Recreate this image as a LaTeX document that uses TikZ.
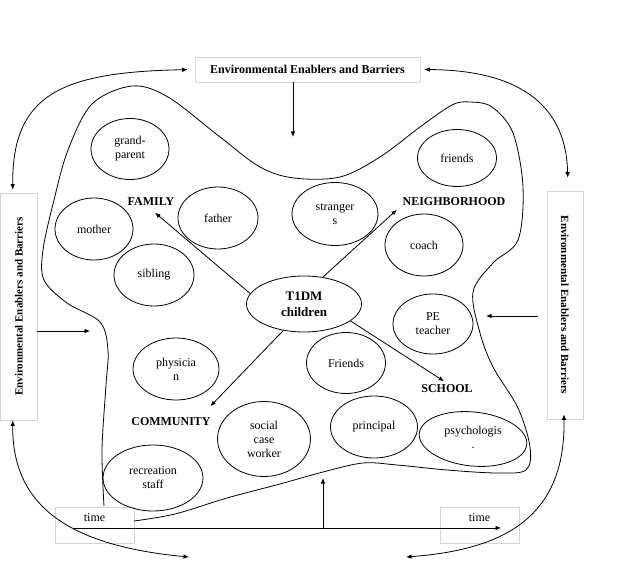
\documentclass[tikz,border=0pt]{standalone}
\usepackage{fontspec}
\setmainfont{Liberation Serif}
\usepackage{graphicx}
\usepackage{tikz}
\usetikzlibrary{positioning, arrows.meta, shapes.geometric, calc}
\definecolor{boxgray}{HTML}{D4D4D4}

\begin{document}
\begin{tikzpicture}[
    x=1pt, y=-1pt, line width=0.8pt,
    arr/.style={-{Latex[length=5.5pt,width=4.5pt]}},
    dblarr/.style={{Latex[length=5.5pt,width=4.5pt]}-{Latex[length=5.5pt,width=4.5pt]}},
    envbox/.style={draw=boxgray, line width=0.6pt, rectangle, inner sep=0pt, font=\fontsize{11}{13}\selectfont\bfseries, align=center},
    timebox/.style={draw=boxgray, line width=0.6pt, rectangle, minimum width=79pt, minimum height=36pt, inner sep=0pt},
    bubble/.style={draw, ellipse, inner sep=0pt, align=center, font=\fontsize{12}{14}\selectfont},
    kidbubble/.style={bubble, font=\fontsize{13}{16}\selectfont\bfseries},
    grouplbl/.style={font=\fontsize{12}{14}\selectfont\bfseries},
]
\useasboundingbox (0,0) rectangle (622,567);

% environment boxes
\node[envbox, minimum width=225pt, minimum height=25pt, font=\fontsize{12}{14}\selectfont\bfseries] (topbox) at (307.5,69.5) {Environmental Enablers and Barriers};
\node[envbox, minimum width=227pt, minimum height=36.5pt, rotate=90] (leftbox) at (18.75,306.5) {Environmental Enablers and Barriers};
\node[envbox, minimum width=228pt, minimum height=36pt, rotate=-90] (rightbox) at (565,305) {Environmental Enablers and Barriers};

% time boxes
\node[timebox, label={[anchor=north, inner sep=0pt, yshift=-6pt, font=\fontsize{12}{14}\selectfont]north:time}] (timeL) at (94.5,525) {};
\node[timebox, label={[anchor=north, inner sep=0pt, yshift=-6pt, font=\fontsize{12}{14}\selectfont]north:time}] (timeR) at (479.5,525) {};

% the setting
\draw plot[smooth, tension=0.55] coordinates {
  (104,506) (102,450) (106,385) (108,350) (100,322) (67,303) (44,280)
  (43,250) (54,200) (68,150) (92,104) (132,86) (168,97) (220,137)
  (260,167) (294,178) (340,177) (380,157) (420,127) (452,105) (470,102)
  (492,107) (513,133) (523,187) (518,240) (493,263) (473,292) (480,333)
  (493,367) (518,408) (530,447) (526,470) (497,473) (447,470) (397,465)
  (363,463) (323,472) (280,484) (227,498) (175,514) (134,521)};

% family
\node[bubble, minimum width=78pt, minimum height=61pt] (grand) at (130,149) {grand-\\parent};
\node[bubble, minimum width=78pt, minimum height=62pt] (mother) at (94,229) {mother};
\node[bubble, minimum width=80pt, minimum height=62pt] (sibling) at (154,275) {sibling};
\node[bubble, minimum width=80pt, minimum height=62pt] (father) at (218,218) {father};
\node[grouplbl] (family) at (151,202) {FAMILY};

% neighborhood
\node[bubble, minimum width=86pt, minimum height=63pt] (strangers) at (335,214) {stranger\\s};
\node[bubble, minimum width=79pt, minimum height=57pt] (friends) at (457,158) {friends};
\node[bubble, minimum width=78pt, minimum height=62pt] (coach) at (424,245) {coach};
\node[grouplbl] (neigh) at (454,202) {NEIGHBORHOOD};

% school
\node[bubble, minimum width=80pt, minimum height=60pt] (pe) at (433,324) {PE\\teacher};
\node[bubble, minimum width=79pt, minimum height=61pt] (friends2) at (346,363) {Friends};
\node[bubble, minimum width=87pt, minimum height=62pt] (principal) at (374,427) {principal};
\node[bubble, minimum width=108pt, minimum height=54pt, rotate=-6] (psych) at (473,439)
  {\rotatebox{6}{\begin{tabular}{@{}c@{}}psychologis\\.\end{tabular}}};
\node[grouplbl] (school) at (447,389) {SCHOOL};

% community
\node[bubble, minimum width=86pt, minimum height=62pt] (physician) at (176,369) {physicia\\n};
\node[bubble, minimum width=93pt, minimum height=75pt] (social) at (264,439) {social\\case\\worker};
\node[bubble, minimum width=100pt, minimum height=66pt] (recreation) at (153,478) {recreation\\staff};
\node[grouplbl] (community) at (171,422) {COMMUNITY};

% child
\node[kidbubble, minimum width=115pt, minimum height=56pt] (t1dm) at (304,304) {T1DM\\children};

\draw[arr] (t1dm.169) -- ([xshift=4pt,yshift=-3pt]family.south);
\draw[arr] (t1dm.55) -- ([xshift=-2pt]neigh.south west);
\draw[arr] (t1dm.232) -- ([xshift=-4pt,yshift=8pt]community.north east);
\draw[arr] (t1dm.-20) -- ([xshift=-3pt]school.north);

% influences into the setting
\coordinate (intop) at (293,137);
\coordinate (inleft) at (90,331);
\coordinate (inright) at (486,316);
\draw[arr] (topbox.south -| intop) -- (intop);
\draw[arr] (leftbox.south |- inleft) -- (inleft);
\draw[arr, shorten <=9pt] (rightbox.south |- inright) -- (inright);

% time
\coordinate (t0) at (74,528);
\coordinate (t1) at (501,528);
\coordinate (tup) at (323,478);
\draw[arr] (t0) -- (t1);
\draw[arr] (tup |- t0) -- (tup);

% outer loop
\coordinate (endL) at (189,557);
\coordinate (endR) at (406,557);
\draw[dblarr, shorten >=7pt, shorten <=3pt] ([xshift=-6pt]leftbox.east) .. controls (12,95) and (60,72) .. (topbox.west);
\draw[dblarr, shorten <=4pt, shorten >=13pt] (topbox.east) .. controls (505,70) and (566,95) .. ([xshift=3pt]rightbox.west);
\draw[dblarr] ([xshift=-6pt]leftbox.west) .. controls (12,500) and (60,545) .. (endL);
\draw[dblarr, shorten <=-5pt] ([xshift=-1pt]rightbox.east) .. controls (566,520) and (500,550) .. (endR);
\end{tikzpicture}
\end{document}
